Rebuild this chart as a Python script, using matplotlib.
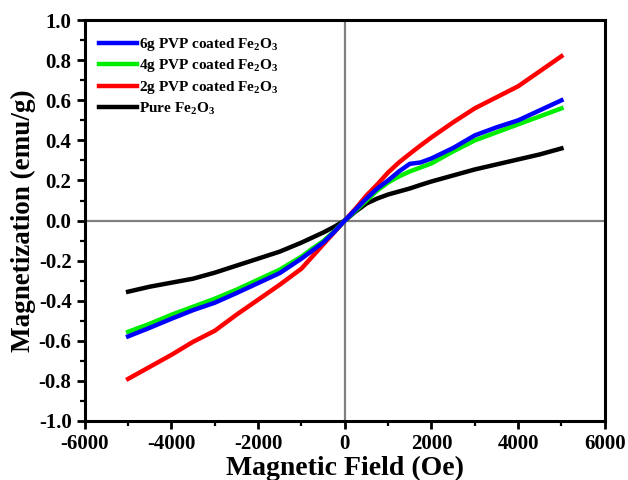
"""M-H curves for PVP coated Fe2O3 samples."""

import matplotlib

matplotlib.use("Agg")
import matplotlib.pyplot as plt
from matplotlib.ticker import MultipleLocator

plt.rcParams["font.family"] = ["Liberation Serif", "DejaVu Serif"]
plt.rcParams["font.weight"] = "bold"
plt.rcParams["axes.unicode_minus"] = False
plt.rcParams["mathtext.fontset"] = "custom"
plt.rcParams["mathtext.rm"] = "Liberation Serif:bold"
plt.rcParams["mathtext.bf"] = "Liberation Serif:bold"

# field (Oe)
field = [-5000, -4500, -4000, -3500, -3000, -2500, -2000, -1500, -1000, -750, -500, -250,
         0, 250, 500, 750, 1000, 1250, 1500, 1750, 2000, 2500, 3000, 3500, 4000, 4500, 5000]

# magnetization (emu/g)
m_6g = [-0.578, -0.535, -0.49, -0.447, -0.41, -0.362, -0.312, -0.262, -0.19, -0.15, -0.11, -0.058,
        0.0, 0.055, 0.11, 0.16, 0.20, 0.245, 0.283, 0.29, 0.31, 0.362, 0.425, 0.465, 0.50, 0.55, 0.60]
m_4g = [-0.555, -0.515, -0.47, -0.43, -0.39, -0.345, -0.295, -0.245, -0.18, -0.14, -0.103, -0.055,
        0.0, 0.05, 0.10, 0.15, 0.19, 0.22, 0.245, 0.265, 0.285, 0.345, 0.40, 0.44, 0.48, 0.52, 0.56]
m_2g = [-0.79, -0.73, -0.67, -0.605, -0.55, -0.47, -0.395, -0.32, -0.24, -0.18, -0.12, -0.06,
        0.0, 0.06, 0.125, 0.18, 0.24, 0.29, 0.333, 0.375, 0.415, 0.49, 0.56, 0.615, 0.67, 0.745, 0.82]
m_pure = [-0.355, -0.33, -0.31, -0.29, -0.26, -0.225, -0.19, -0.155, -0.11, -0.085, -0.06, -0.032,
          0.0, 0.045, 0.085, 0.11, 0.13, 0.145, 0.16, 0.178, 0.195, 0.225, 0.255, 0.28, 0.305, 0.33, 0.36]

fig = plt.figure(figsize=(6.28, 4.8), dpi=100)
ax = fig.add_axes([0.135, 0.123, 0.828, 0.835])

ax.axhline(0, color="#808080", lw=1.6, zorder=1)
ax.axvline(0, color="#808080", lw=1.6, zorder=1)

lw = 3.2
l_pure, = ax.plot(field, m_pure, color="black", lw=lw, label=r"Pure Fe$_2$O$_3$", zorder=3)
l_2g, = ax.plot(field, m_2g, color="#ff0000", lw=lw, label=r"2g PVP coated Fe$_2$O$_3$", zorder=3)
l_4g, = ax.plot(field, m_4g, color="#00ee00", lw=lw, label=r"4g PVP coated Fe$_2$O$_3$", zorder=3)
l_6g, = ax.plot(field, m_6g, color="#0000ff", lw=lw, label=r"6g PVP coated Fe$_2$O$_3$", zorder=3)

ax.set_xlim(-6000, 6000)
ax.set_ylim(-1.0, 1.0)
ax.xaxis.set_major_locator(MultipleLocator(2000))
ax.xaxis.set_minor_locator(MultipleLocator(1000))
ax.yaxis.set_major_locator(MultipleLocator(0.2))
ax.yaxis.set_minor_locator(MultipleLocator(0.1))
ax.yaxis.set_major_formatter(lambda v, p: f"{v:.1f}")

for s in ax.spines.values():
    s.set_linewidth(2.2)
ax.tick_params(which="major", direction="out", length=6, width=2, labelsize=15)
ax.tick_params(which="minor", direction="out", length=3.5, width=1.6)

ax.set_xlabel("Magnetic Field (Oe)", fontsize=20, fontweight="bold", labelpad=1)
ax.set_ylabel("Magnetization (emu/g)", fontsize=19.5, fontweight="bold", labelpad=2)

ax.legend(handles=[l_6g, l_4g, l_2g, l_pure], loc="upper left", bbox_to_anchor=(0.0, 0.995),
          frameon=False, fontsize=11, handlelength=2.5, handletextpad=0.15, labelspacing=0.3)

fig.savefig("out.png", dpi=100)
